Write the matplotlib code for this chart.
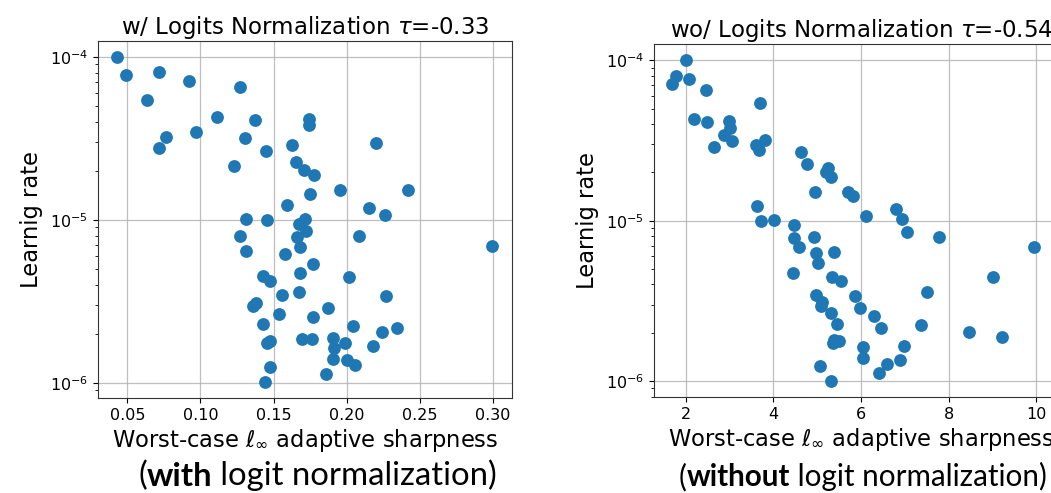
import numpy as np
import matplotlib
matplotlib.use("Agg")
import matplotlib.pyplot as plt

# ---- data: left panel (with logit normalization) ----
left_sharpness = [0.0432, 0.0491, 0.0714, 0.0925, 0.0634, 0.1268, 0.1114, 0.1375, 0.0968, 0.0766,
                  0.0720, 0.1302, 0.1448, 0.1230, 0.1741, 0.1741, 0.1623, 0.2198, 0.1655, 0.1707,
                  0.1775, 0.1752, 0.1955, 0.2416, 0.1595, 0.2150, 0.2259, 0.1309, 0.1452, 0.1718,
                  0.1673, 0.1723, 0.1661, 0.1268, 0.2082, 0.1682, 0.1314, 0.1575, 0.2991, 0.1768,
                  0.1684, 0.1427, 0.1477, 0.2018, 0.1677, 0.1559, 0.2268, 0.1377, 0.1359, 0.1870,
                  0.1536, 0.1768, 0.1427, 0.2041, 0.2343, 0.2241, 0.1473, 0.1695, 0.1764, 0.1905,
                  0.1457, 0.1991, 0.1916, 0.2182, 0.1905, 0.2002, 0.2059, 0.1473, 0.1859, 0.1441]
left_lr = [1.00e-4, 7.80e-5, 8.05e-5, 7.16e-5, 5.42e-5, 6.55e-5, 4.26e-5, 4.13e-5, 3.45e-5, 3.21e-5,
           2.78e-5, 3.18e-5, 2.66e-5, 2.14e-5, 4.17e-5, 3.81e-5, 2.90e-5, 2.98e-5, 2.26e-5, 2.03e-5,
           1.90e-5, 1.45e-5, 1.52e-5, 1.52e-5, 1.24e-5, 1.19e-5, 1.08e-5, 1.02e-5, 1.00e-5, 1.02e-5,
           9.50e-6, 8.60e-6, 7.87e-6, 7.98e-6, 7.94e-6, 6.83e-6, 6.42e-6, 6.21e-6, 6.89e-6, 5.39e-6,
           4.73e-6, 4.51e-6, 4.24e-6, 4.45e-6, 3.61e-6, 3.47e-6, 3.40e-6, 3.10e-6, 2.95e-6, 2.88e-6,
           2.66e-6, 2.53e-6, 2.30e-6, 2.25e-6, 2.17e-6, 2.05e-6, 1.80e-6, 1.85e-6, 1.85e-6, 1.89e-6,
           1.76e-6, 1.76e-6, 1.64e-6, 1.68e-6, 1.40e-6, 1.38e-6, 1.29e-6, 1.25e-6, 1.13e-6, 1.01e-6]

# ---- data: right panel (without logit normalization) ----
right_sharpness = [2.000, 1.788, 1.682, 2.076, 2.470, 3.697, 2.182, 2.492, 3.000, 3.015,
                   2.886, 3.053, 3.811, 2.659, 3.606, 3.667, 4.629, 4.758, 5.242, 5.212,
                   5.311, 4.962, 5.712, 5.826, 3.621, 6.106, 6.788, 6.939, 7.053, 3.727,
                   4.008, 4.470, 4.477, 4.576, 4.932, 7.773, 9.955, 4.985, 5.030, 5.386,
                   4.439, 5.348, 5.553, 9.000, 7.508, 4.970, 5.106, 5.856, 5.091, 5.970,
                   5.311, 5.447, 6.288, 6.447, 7.379, 8.455, 9.212, 5.386, 5.500, 5.371,
                   6.045, 6.977, 6.045, 6.886, 6.598, 6.409, 5.061, 5.311]
right_lr = [1.00e-4, 8.02e-5, 7.11e-5, 7.68e-5, 6.56e-5, 5.41e-5, 4.30e-5, 4.10e-5, 4.16e-5, 3.78e-5,
            3.43e-5, 3.16e-5, 3.19e-5, 2.90e-5, 2.97e-5, 2.77e-5, 2.67e-5, 2.25e-5, 2.14e-5, 2.00e-5,
            1.88e-5, 1.51e-5, 1.50e-5, 1.43e-5, 1.24e-5, 1.07e-5, 1.18e-5, 1.02e-5, 8.53e-6, 9.96e-6,
            1.01e-5, 9.40e-6, 7.76e-6, 6.81e-6, 7.94e-6, 7.94e-6, 6.88e-6, 6.25e-6, 5.41e-6, 6.40e-6,
            4.69e-6, 4.47e-6, 4.20e-6, 4.43e-6, 3.60e-6, 3.43e-6, 3.12e-6, 3.38e-6, 2.93e-6, 2.87e-6,
            2.66e-6, 2.28e-6, 2.54e-6, 2.15e-6, 2.23e-6, 2.02e-6, 1.88e-6, 1.80e-6, 1.78e-6, 1.73e-6,
            1.63e-6, 1.66e-6, 1.39e-6, 1.36e-6, 1.28e-6, 1.12e-6, 1.24e-6, 1.00e-6]

titles = ["w/ Logits Normalization $\\tau$=-0.33", "wo/ Logits Normalization $\\tau$=-0.54"]
left_xticks = [0.05, 0.10, 0.15, 0.20, 0.25, 0.30]
right_xticks = [2, 4, 6, 8, 10]
ylabel = "Learnig rate"
xlabel = "Worst-case $\\ell_\\infty$ adaptive sharpness"
captions = [("(", "with", " logit normalization)"), ("(", "without", " logit normalization)")]

W, H = 1051, 493
fig = plt.figure(figsize=(W / 100, H / 100), dpi=100)

def px_rect(x0, y0, x1, y1):
    return [x0 / W, 1 - y1 / H, (x1 - x0) / W, (y1 - y0) / H]

axL = fig.add_axes(px_rect(98, 41, 512, 398))
axR = fig.add_axes(px_rect(654, 44, 1068, 397))

color = "#1f77b4"
for ax, xs, ys, title, xt in [(axL, left_sharpness, left_lr, titles[0], left_xticks),
                              (axR, right_sharpness, right_lr, titles[1], right_xticks)]:
    ax.scatter(xs, ys, s=85, color=color, zorder=3, linewidths=0)
    ax.set_yscale("log")
    ax.set_xticks(xt)
    ax.grid(True, which="major", color="#b0b0b0", linewidth=0.9, alpha=0.8)
    ax.set_axisbelow(True)
    ax.set_title(title, fontsize=16.5, pad=5)
    ax.set_ylabel(ylabel, fontsize=16.3, labelpad=5)
    ax.set_xlabel(xlabel, fontsize=16.3, labelpad=3)
    ax.tick_params(labelsize=11.5)
    for sp in ax.spines.values():
        sp.set_color("#333333")

axL.set_xlim(0.030, 0.313)
axL.set_ylim(10 ** -6.092, 10 ** -3.902)
axL.set_xticklabels(["%.2f" % v for v in left_xticks])
axR.set_xlim(1.28, 10.72)
axR.set_ylim(10 ** -6.10, 10 ** -3.8975)

# captions with a bold word, sized to span the target pixel range
renderer = fig.canvas.get_renderer()
for (a, b, c), (x0, x1) in zip(captions, [(138, 497), (679, 1047)]):
    size = 20.0
    for _ in range(3):
        t1 = fig.text(x0 / W, 1 - 491 / H, a, fontsize=size, family="Lato", va="bottom", ha="left")
        a2 = fig.add_artist(plt.Annotation(b, xy=(1, 0), xycoords=t1, va="bottom", ha="left",
                                           fontsize=size, family="Lato", weight="bold"))
        a3 = fig.add_artist(plt.Annotation(c, xy=(1, 0), xycoords=a2, va="bottom", ha="left",
                                           fontsize=size, family="Lato"))
        w = (t1.get_window_extent(renderer).width + a2.get_window_extent(renderer).width
             + a3.get_window_extent(renderer).width)
        new_size = size * (x1 - x0) / w
        if abs(new_size - size) < 0.05:
            break
        t1.remove(); a2.remove(); a3.remove()
        size = new_size
    else:
        t1 = fig.text(x0 / W, 1 - 491 / H, a, fontsize=size, family="Lato", va="bottom", ha="left")
        a2 = fig.add_artist(plt.Annotation(b, xy=(1, 0), xycoords=t1, va="bottom", ha="left",
                                           fontsize=size, family="Lato", weight="bold"))
        fig.add_artist(plt.Annotation(c, xy=(1, 0), xycoords=a2, va="bottom", ha="left",
                                      fontsize=size, family="Lato"))

fig.savefig("out.png", dpi=100)
